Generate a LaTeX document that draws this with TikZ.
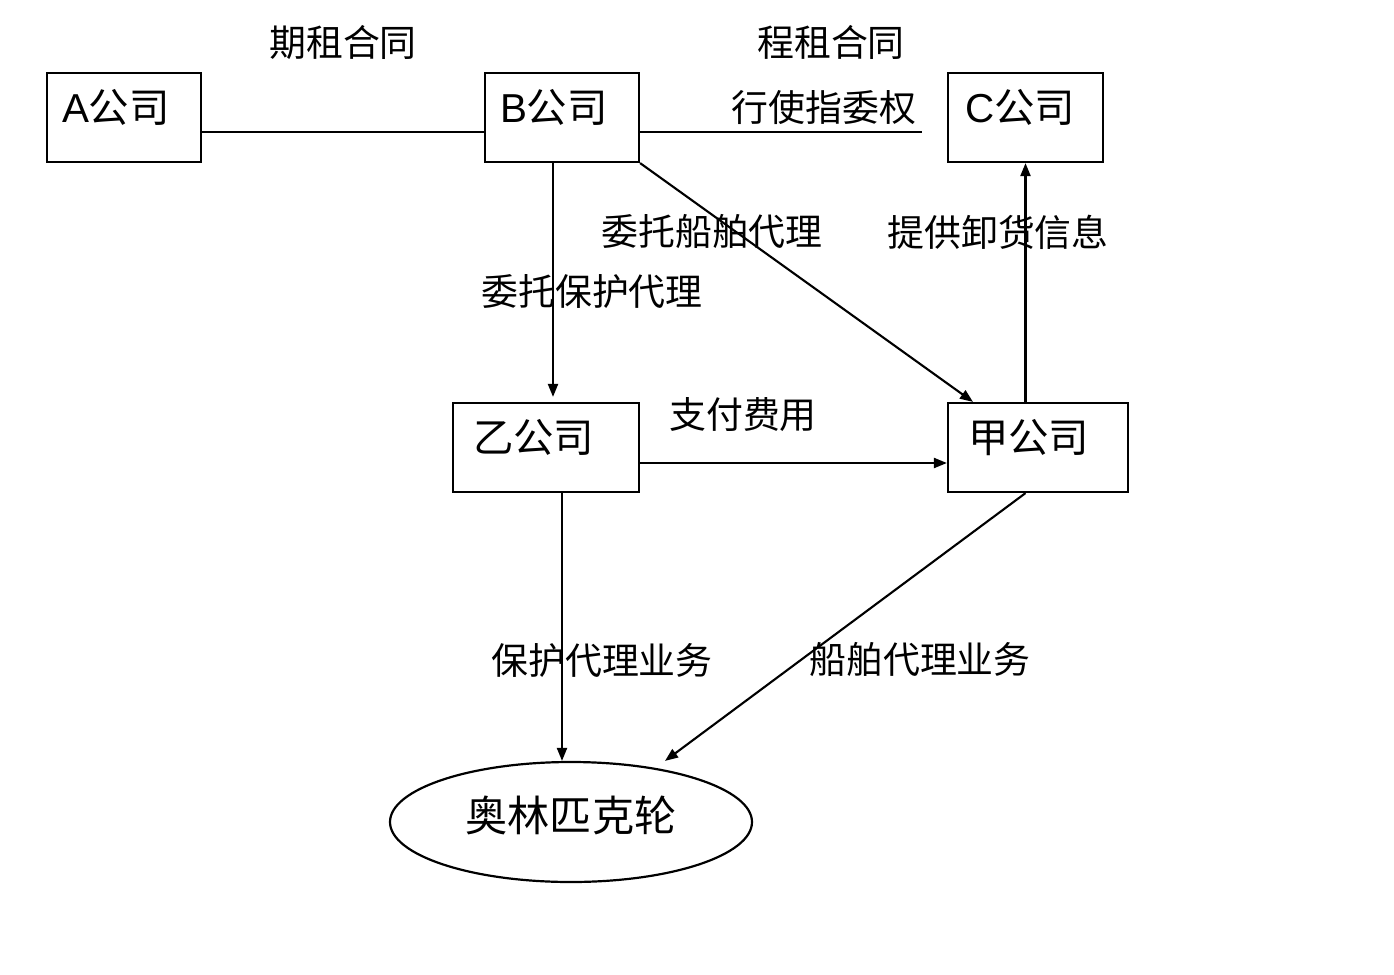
\documentclass[tikz,border=0pt]{standalone}
\usepackage{fontspec}
\setmainfont{Liberation Sans}
\newfontfamily\cjk{Noto Sans CJK SC}
\usepackage{tikz}
\usetikzlibrary{positioning,arrows.meta,calc,shapes.geometric}

\begin{document}
\begin{tikzpicture}[
  firm/.style={draw, line width=1.25pt, minimum width=3.08cm, minimum height=1.78cm, align=left, inner xsep=0.3cm, text width=2.48cm, text height=0.72cm, text depth=0.53cm, font=\fontsize{23}{27}\selectfont\cjk},
  tag/.style={font=\fontsize{21}{25}\selectfont\cjk, inner sep=1pt},
  link/.style={line width=1.2pt},
  arr/.style={link, -{Triangle[length=0.26cm,width=0.2cm]}}]
\useasboundingbox (0,0) rectangle (27.88,-19.48);
% companies
\node[firm] (a) at (2.48,-2.35) {{\rmfamily A}公司};
\node[firm] (b) at (11.24,-2.35) {{\rmfamily B}公司};
\node[firm, minimum width=3.1cm, inner xsep=0.34cm, text width=2.42cm] (c) at (20.51,-2.35) {{\rmfamily C}公司};
\node[firm, minimum width=3.72cm, inner xsep=0.4cm, text width=2.92cm] (yi) at (10.92,-8.95) {乙公司};
\node[firm, minimum width=3.6cm, inner xsep=0.4cm, text width=2.8cm] (jia) at (20.76,-8.95) {甲公司};
\node[draw, ellipse, line width=1.25pt, minimum width=7.24cm, minimum height=2.4cm, inner sep=0pt, text height=0.75cm, text depth=0.39cm, font=\fontsize{24}{28}\selectfont\cjk] (ship) at (11.42,-16.44) {奥林匹克轮\hspace{0.28cm}};
% labels
\node[tag] (qizu) at (6.86,-0.84) {期租合同};
\node[tag] (chengzu) at (16.62,-0.84) {程租合同};
\node[tag] (zhiwei) at (16.48,-2.16) {行使指委权};
\node[tag] (chuanwt) at (14.24,-4.64) {委托船舶代理};
\node[tag] (xiehuo) at (19.96,-4.64) {提供卸货信息};
\node[tag] (baowt) at (11.84,-5.84) {委托保护代理};
\node[tag] (feiyong) at (14.86,-8.3) {支付费用};
\node[tag] (baoyw) at (12.04,-13.2) {保护代理业务};
\node[tag] (chuanyw) at (18.4,-13.2) {船舶代理业务};
% connectors
\coordinate (cEnd) at (18.44,-2.64);
\draw[link] ([yshift=-0.29cm]a.east) -- ([yshift=-0.29cm]b.west);
\draw[link] ([yshift=-0.29cm]b.east) -- (cEnd);
\draw[arr, shorten >=0.1cm] ([xshift=-0.18cm]b.south) -- ([xshift=-0.18cm]b.south |- yi.north);
\draw[arr] (b.south east) -- ([xshift=-1.3cm]jia.north);
\draw[arr] (jia.north -| c.south) -- (c.south);
\draw[arr] ([yshift=-0.31cm]yi.east) -- ([yshift=-0.31cm]yi.east -| jia.west);
\draw[arr] ([xshift=0.32cm]yi.south) -- ([xshift=0.32cm]yi.south |- ship.north);
\draw[arr] (jia.south -| c.south) -- ([xshift=1.88cm]ship.north);
\end{tikzpicture}
\end{document}
